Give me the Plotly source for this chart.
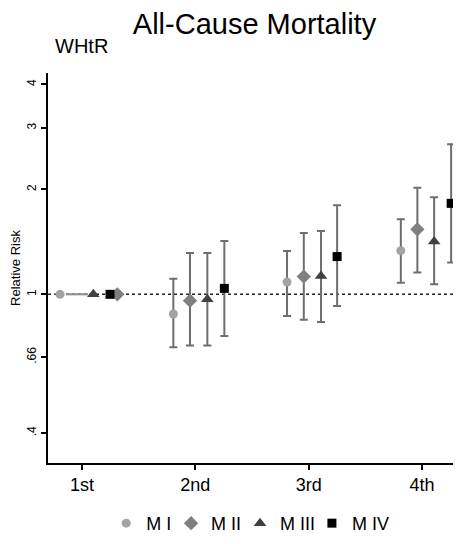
import plotly.graph_objects as go

categories = ["1st", "2nd", "3rd", "4th"]
series = ["M I", "M II", "M III", "M IV"]

rr = {
    "M I":   [1.0, 0.878, 1.085, 1.334],
    "M II":  [1.0, 0.959, 1.124, 1.536],
    "M III": [1.0, 0.968, 1.128, 1.417],
    "M IV":  [1.0, 1.040, 1.283, 1.823],
}
ci_low = {
    "M I":   [1.0, 0.705, 0.867, 1.080],
    "M II":  [1.0, 0.713, 0.846, 1.154],
    "M III": [1.0, 0.713, 0.833, 1.068],
    "M IV":  [1.0, 0.759, 0.926, 1.233],
}
ci_high = {
    "M I":   [1.0, 1.109, 1.331, 1.641],
    "M II":  [1.0, 1.313, 1.499, 2.022],
    "M III": [1.0, 1.313, 1.519, 1.897],
    "M IV":  [1.0, 1.422, 1.800, 2.691],
}
# horizontal offsets of each model within a quartile group
offsets = {
    "M I":   [-0.194, -0.194, -0.191, -0.187],
    "M II":  [0.312, -0.047, -0.043, -0.041],
    "M III": [0.100, 0.106, 0.109, 0.107],
    "M IV":  [0.247, 0.256, 0.251, 0.257],
}
# short grey reference segment drawn at RR = 1 in the first quartile
ref_segment_x = [0.859, 1.053]
ref_segment_y = [1.0, 1.0]

ytick_vals = [0.4, 0.66, 1, 2, 3, 4]
ytick_text = [".4", ".66", "1", "2", "3", "4"]

styles = {
    "M I":   dict(symbol="circle", size=9, color="#a3a3a3"),
    "M II":  dict(symbol="diamond", size=11, color="#7f7f7f"),
    "M III": dict(symbol="triangle-up", size=11, color="#404040"),
    "M IV":  dict(symbol="square", size=9, color="#000000"),
}
legend_ids = ["legend", "legend2", "legend3", "legend4"]
legend_x = [0.141, 0.298, 0.465, 0.639]

FONT = "Liberation Sans, Arial, sans-serif"
fig = go.Figure()

fig.add_shape(type="line", xref="paper", yref="y", x0=0, x1=1, y0=1, y1=1,
              line=dict(color="#222222", width=1.5, dash="dot"), layer="below")

fig.add_trace(go.Scatter(x=ref_segment_x, y=ref_segment_y, mode="lines",
                         line=dict(color="#8c8c8c", width=2), showlegend=False,
                         hoverinfo="skip"))

for s, lid in zip(series, legend_ids):
    xs = [i + 1 + o for i, o in enumerate(offsets[s])]
    ys = rr[s]
    plus = [h - v for h, v in zip(ci_high[s], ys)]
    minus = [v - l for v, l in zip(ys, ci_low[s])]
    st = styles[s]
    fig.add_trace(go.Scatter(
        x=xs, y=ys, mode="markers", name=s, legend=lid,
        marker=dict(symbol=st["symbol"], size=st["size"], color=st["color"],
                    line=dict(width=0)),
        error_y=dict(type="data", symmetric=False, array=plus, arrayminus=minus,
                     color="#6e6e6e", thickness=2, width=4),
    ))

legend_common = dict(orientation="h", xanchor="left", xref="paper",
                     y=-0.155, yanchor="middle", font=dict(size=18),
                     itemwidth=30, bgcolor="rgba(0,0,0,0)")
legends = {}
for lid, lx in zip(legend_ids, legend_x):
    legends[lid] = dict(legend_common, x=lx)

# page body has an 8px margin, so the figure is laid out 8px smaller
fig.update_layout(
    width=453, height=536,
    margin=dict(l=40, r=0, t=65, b=81, pad=0, autoexpand=False),
    paper_bgcolor="white", plot_bgcolor="white",
    font=dict(family=FONT, color="black", size=18),
    title=dict(text="All-Cause Mortality", x=0.5, xref="paper", xanchor="center",
               y=0.97, yref="container", yanchor="middle",
               font=dict(size=29, color="black")),
    showlegend=True,
    annotations=[dict(text="WHtR", xref="paper", yref="paper", x=0.012,
                      xanchor="left", y=1.068, yanchor="middle",
                      showarrow=False, font=dict(size=20, color="black"))],
    **legends,
)
fig.update_xaxes(
    range=[0.70, 4.344], tickmode="array", tickvals=[1, 2, 3, 4], ticktext=categories,
    showline=True, linecolor="black", linewidth=1.5, ticks="outside", ticklen=5,
    tickwidth=1.5, tickcolor="black", showgrid=False, zeroline=False,
    tickfont=dict(size=18), automargin=False,
)
fig.update_yaxes(
    type="log", range=[-0.4836, 0.6345], tickmode="array", tickvals=ytick_vals,
    ticktext=ytick_text, tickangle=-90, showline=True, linecolor="black",
    linewidth=1.5, ticks="outside", ticklen=5, tickwidth=1.5, tickcolor="black",
    showgrid=False, zeroline=False, tickfont=dict(size=12), automargin=False,
    title=dict(text="Relative Risk", font=dict(size=13), standoff=4),
)

fig.write_html("out.html")
